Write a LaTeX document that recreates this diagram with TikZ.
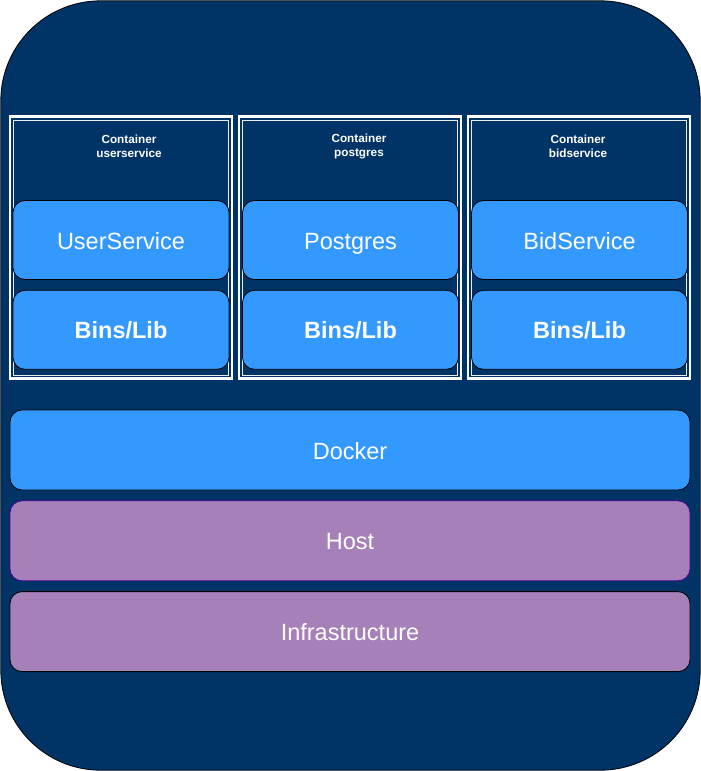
\documentclass[tikz,border=0pt]{standalone}
\usepackage{fontspec}
\setmainfont{Liberation Sans}
\usetikzlibrary{positioning}
\definecolor{navy}{HTML}{003366}
\definecolor{layerblue}{HTML}{3399FF}
\definecolor{layerpurple}{HTML}{A680B8}
\definecolor{hostedge}{HTML}{4C0099}

\begin{document}
\begin{tikzpicture}[x=1pt,y=-1pt]
% Docker stack
   \begin{scope}[ node distance=10pt,
                   frame/.style={rectangle,draw=white,line width=2.2pt,minimum width=222pt,minimum height=262pt,inner sep=0pt},
                   framein/.style={rectangle,draw=white!85!gray,line width=0.9pt,minimum width=215pt,minimum height=255pt,inner sep=0pt},
                   tag/.style={text=white,align=center,font=\fontsize{11.75}{14}\selectfont\bfseries},
                   box/.style={rectangle,rounded corners=12pt,draw=black,line width=0.8pt,fill=layerblue,text=white,
                               minimum width=216pt,minimum height=79pt,inner sep=0pt,text height=20pt,text depth=2pt,
                               font=\fontsize{23.5}{28}\selectfont},
                   libbox/.style={box,font=\fontsize{23.5}{28}\selectfont\bfseries},
                   layer/.style={box,minimum width=680pt,minimum height=80pt} ]
     \useasboundingbox (0,0) rectangle (701,771);
     \draw [fill=navy,draw=black,line width=0.8pt,rounded corners=100pt] (0.8,0.8) rectangle (700.2,770.2);
     \node [frame]   (user)   at (121.25,247.5) {};
     \node [framein] (userin) at (user.center)  {};
     \node [frame]   (pg)     at (350.25,247.5) {};
     \node [framein] (pgin)   at (pg.center)    {};
     \node [frame]   (bid)    at (579.25,247.5) {};
     \node [framein] (bidin)  at (bid.center)   {};
     \node [tag]     (tuser)  at (129,146) {Container\\userservice};
     \node [tag]     (tpg)    at (359,146) {Container\\postgres};
     \node [tag]     (tbid)   at (578,146) {Container\\bidservice};
     \node [box]     (usvc)   at (121,240)  {UserService};
     \node [libbox]  (ulib)   [below=of usvc] {Bins/Lib};
     \node [box]     (psvc)   at (350.5,240) {Postgres};
     \node [libbox]  (plib)   [below=of psvc] {Bins/Lib};
     \node [box]     (bsvc)   at (579.5,240) {BidService};
     \node [libbox]  (blib)   [below=of bsvc] {Bins/Lib};
     \node [layer]   (docker) at (350,450) {Docker};
     \node [layer,fill=layerpurple,draw=hostedge] (host) [below=of docker] {Host};
     \node [layer,fill=layerpurple] (infra) [below=of host] {Infrastructure};
   \end{scope}
\end{tikzpicture}
\end{document}
